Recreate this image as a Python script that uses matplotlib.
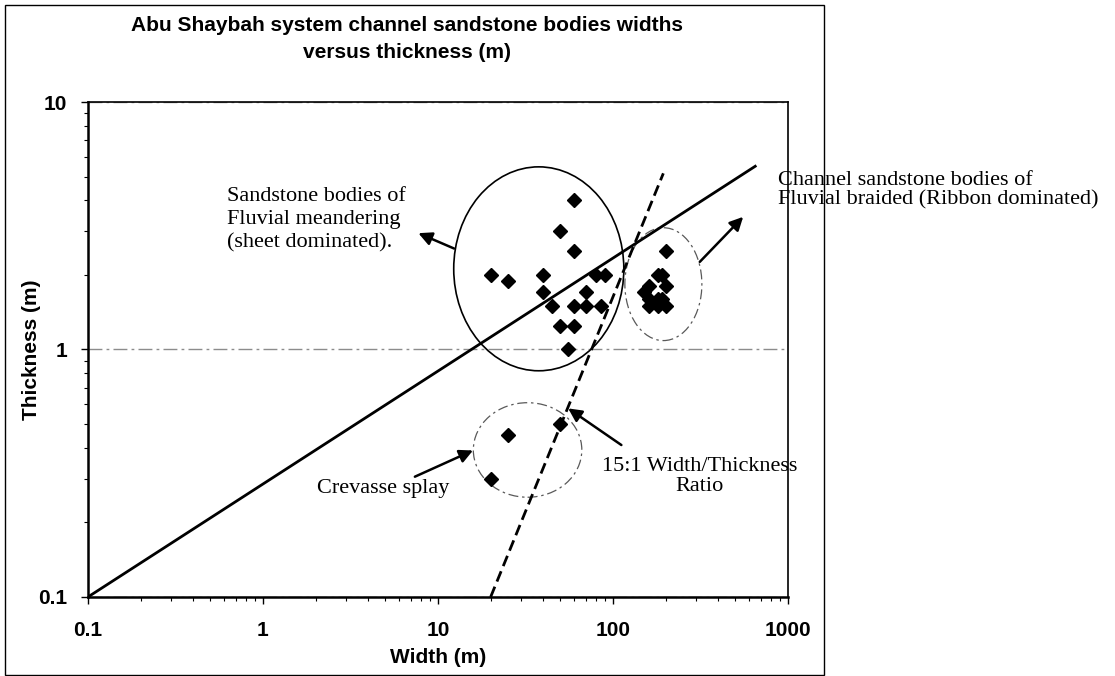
import matplotlib.pyplot as plt
from matplotlib.patches import Ellipse, Rectangle
from matplotlib.ticker import NullFormatter

# channel bodies: width (m) and thickness (m)
meander_w = [20, 25, 40, 40, 45, 50, 50, 55, 60, 60, 60, 60, 70, 70, 80, 85, 90]
meander_t = [2.0, 1.9, 2.0, 1.7, 1.5, 3.0, 1.25, 1.0, 4.0, 2.5, 1.5, 1.25, 1.7, 1.5, 2.0, 1.5, 2.0]

braided_w = [200, 180, 190, 200, 160, 150, 160, 180, 190, 160, 180, 200]
braided_t = [2.5, 2.0, 2.0, 1.8, 1.8, 1.7, 1.6, 1.6, 1.6, 1.5, 1.5, 1.5]

splay_w = [20, 25, 50]
splay_t = [0.3, 0.45, 0.5]

# trend line and 15:1 width/thickness line (end points)
trend_w = [0.1, 650]
trend_t = [0.1, 5.5]
ratio_w = [20, 194]
ratio_t = [0.1, 5.15]

x_ticks = [0.1, 1, 10, 100, 1000]
x_labels = ['0.1', '1', '10', '100', '1000']
y_ticks = [0.1, 1, 10]
y_labels = ['0.1', '1', '10']

plt.rcParams['font.family'] = ['Liberation Sans', 'DejaVu Sans']
serif = ['Liberation Serif', 'DejaVu Serif']

fig = plt.figure(figsize=(11.15, 6.76), dpi=100)
ax = fig.add_axes([0.0789, 0.1169, 0.6278, 0.7322])

# outer chart frame
fig.add_artist(Rectangle((5 / 1115, 1 / 676), 819 / 1115, 670 / 676, transform=fig.transFigure,
                         fill=False, edgecolor='black', lw=1))

ax.plot(trend_w, trend_t, color='black', lw=2, zorder=3)
ax.plot(ratio_w, ratio_t, color='black', lw=2, linestyle=(0, (4, 2)), zorder=3)

pts_w = meander_w + braided_w + splay_w
pts_t = meander_t + braided_t + splay_t
ax.plot(pts_w, pts_t, linestyle='none', marker='D', markersize=6.8, color='black', zorder=4)

ax.set_xscale('log')
ax.set_yscale('log')
ax.set_xlim(0.1, 1000)
ax.set_ylim(0.1, 10)
ax.set_xticks(x_ticks)
ax.set_xticklabels(x_labels)
ax.set_yticks(y_ticks)
ax.set_yticklabels(y_labels)
ax.xaxis.set_minor_formatter(NullFormatter())
ax.yaxis.set_minor_formatter(NullFormatter())
ax.tick_params(which='major', direction='out', length=5, width=1, labelsize=15, pad=10)
ax.tick_params(which='minor', direction='out', length=3, width=0.8)
ax.tick_params(axis='x', which='major', pad=12)
for lab in ax.get_xticklabels() + ax.get_yticklabels():
    lab.set_fontweight('bold')

ax.grid(axis='y', which='major', color='0.55', lw=1, linestyle=(0, (10, 3, 2, 3)))
for side in ['left', 'bottom']:
    ax.spines[side].set_linewidth(1.8)
for side in ['top', 'right']:
    ax.spines[side].set_linewidth(1.2)

ax.set_xlabel('Width (m)', fontsize=15, fontweight='bold')
ax.set_ylabel('Thickness (m)', fontsize=15, fontweight='bold')
ax.xaxis.set_label_coords(0.5, -0.103)
ax.yaxis.set_label_coords(-0.067, 0.5)

fig.text(0.365, 0.942, 'Abu Shaybah system channel sandstone bodies widths\nversus thickness (m)',
         ha='center', va='center', fontsize=15, fontweight='bold', linespacing=1.55)

# groups
ax.add_patch(Ellipse((0.644, 0.663), 0.243, 0.412, transform=ax.transAxes,
                     fill=False, edgecolor='black', lw=1.2, zorder=2))
ax.add_patch(Ellipse((0.822, 0.632), 0.110, 0.228, transform=ax.transAxes,
                     fill=False, edgecolor='0.35', lw=0.9, linestyle=(0, (8, 3, 2, 3)), zorder=2))
ax.add_patch(Ellipse((0.628, 0.297), 0.155, 0.191, transform=ax.transAxes,
                     fill=False, edgecolor='0.35', lw=0.9, linestyle=(0, (8, 3, 2, 3)), zorder=2))

arrow = dict(arrowstyle='-|>', color='black', lw=1.8, mutation_scale=20, shrinkA=0, shrinkB=0)

ax.text(0.199, 0.762, 'Sandstone bodies of\nFluvial meandering\n(sheet dominated).',
        transform=ax.transAxes, ha='left', va='center', fontsize=16, family=serif, linespacing=1.3)
ax.annotate('', xy=(0.472, 0.735), xytext=(0.523, 0.704), xycoords='axes fraction', arrowprops=arrow)

ax.text(0.986, 0.822, 'Channel sandstone bodies of\nFluvial braided (Ribbon dominated)',
        transform=ax.transAxes, ha='left', va='center', fontsize=16, family=serif, linespacing=1.0)
ax.annotate('', xy=(0.936, 0.768), xytext=(0.874, 0.677), xycoords='axes fraction', arrowprops=arrow)

ax.text(0.327, 0.220, 'Crevasse splay', transform=ax.transAxes, ha='left', va='center',
        fontsize=16, family=serif)
ax.annotate('', xy=(0.550, 0.296), xytext=(0.467, 0.243), xycoords='axes fraction', arrowprops=arrow)

ax.text(0.874, 0.244, '15:1 Width/Thickness\nRatio', transform=ax.transAxes, ha='center',
        va='center', fontsize=16, family=serif, linespacing=1.1, multialignment='center')
ax.annotate('', xy=(0.686, 0.381), xytext=(0.762, 0.307), xycoords='axes fraction', arrowprops=arrow)

fig.savefig('out.png', dpi=100)
